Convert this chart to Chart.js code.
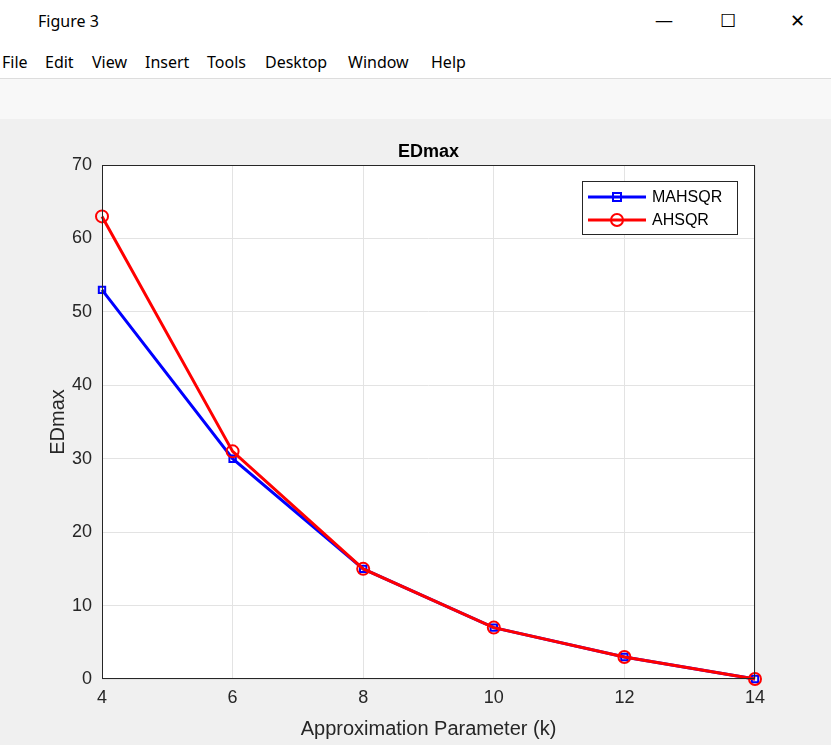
<!DOCTYPE html>
<html><head><meta charset="utf-8">
<script src="https://cdn.jsdelivr.net/npm/chart.js@4"></script>
<style>
body{margin:0;width:831px;height:745px;background:#f0f0f0;font-family:"Segoe UI","Noto Sans",sans-serif;overflow:hidden;position:relative}
#tb{position:absolute;top:0;left:0;width:831px;height:42px;background:#fff;font-size:16px}
#tb span{position:absolute;left:38px;top:10px;color:#000}
#tb .b{position:absolute;top:8px;font-size:18px}
#mb{position:absolute;top:42px;left:0;width:831px;height:36px;background:#fff;font-size:16px}
#mb span{position:absolute;top:9px}
#tl{position:absolute;top:78px;left:0;width:831px;height:40px;background:#f8f8f8;border-top:1px solid #ddd}
#c{position:absolute;top:118px;left:0}
</style></head><body>
<div id="tb"><span>Figure 3</span><div class="b" style="left:655px">&#8212;</div><div class="b" style="left:720px">&#9744;</div><div class="b" style="left:790px">&#10005;</div></div>
<div id="mb"><span style="left:2px">File</span><span style="left:45px">Edit</span><span style="left:92px">View</span><span style="left:145px">Insert</span><span style="left:207px">Tools</span><span style="left:265px">Desktop</span><span style="left:348px">Window</span><span style="left:431px">Help</span></div>
<div id="tl"></div>
<canvas id="c" width="831" height="627"></canvas>
<script>
const kValues=[4,6,8,10,12,14];
const mahsqr=[53,30,15,7,3,0];
const ahsqr=[63,31,15,7,3,0];
const yTicks=[0,10,20,30,40,50,60,70];
const F='"Liberation Sans",Arial,sans-serif';
const deco={id:'deco',
beforeDraw(ch){const a=ch.chartArea,c=ch.ctx;c.save();c.fillStyle='#fff';c.fillRect(a.left,a.top,a.right-a.left,a.bottom-a.top);c.restore();},
afterDraw(ch){const a=ch.chartArea,c=ch.ctx;c.save();
c.strokeStyle='#262626';c.lineWidth=1;c.strokeRect(a.left+0.5,a.top+0.5,a.right-a.left-1,a.bottom-a.top-1);
c.fillStyle='#000';c.font='bold 18px '+F;c.textAlign='center';c.fillText('EDmax',(a.left+a.right)/2,a.top-8);
const x0=582,y0=181-118;c.fillStyle='#fff';c.fillRect(x0,y0,155,53);c.strokeStyle='#262626';c.strokeRect(x0+0.5,y0+0.5,155,53);
c.font='16px '+F;c.textAlign='left';c.textBaseline='middle';c.lineWidth=3;
[['MAHSQR','#0000ff',y0+16,'s'],['AHSQR','#ff0000',y0+39,'c']].forEach(([t,col,y,m])=>{c.strokeStyle=col;c.beginPath();c.moveTo(x0+6,y);c.lineTo(x0+64,y);c.stroke();c.lineWidth=2;
if(m==='s'){c.strokeRect(x0+31,y-4,8,8);}else{c.beginPath();c.arc(x0+35,y,6,0,7);c.stroke();}c.lineWidth=3;c.fillStyle='#000';c.fillText(t,x0+70,y+1);});
c.restore();}};
new Chart(document.getElementById('c'),{type:'line',
data:{datasets:[
{label:'MAHSQR',order:2,clip:false,data:kValues.map((k,i)=>({x:k,y:mahsqr[i]})),borderColor:'#0000ff',borderWidth:3,pointStyle:'rect',pointRadius:4.5,pointBorderWidth:2,pointBackgroundColor:'rgba(0,0,0,0)',pointBorderColor:'#0000ff'},
{label:'AHSQR',order:1,clip:false,data:kValues.map((k,i)=>({x:k,y:ahsqr[i]})),borderColor:'#ff0000',borderWidth:3,pointStyle:'circle',pointRadius:6,pointBorderWidth:2,pointBackgroundColor:'rgba(0,0,0,0)',pointBorderColor:'#ff0000'}]},
options:{responsive:false,animation:false,layout:{padding:{top:47,right:76,left:42,bottom:0}},
plugins:{legend:{display:false},tooltip:{enabled:false}},
scales:{
x:{type:'linear',min:4,max:14,afterBuildTicks(s){s.ticks=kValues.map(v=>({value:v}));},afterFit(s){s.height=66;},
grid:{color:'#e3e3e3',drawTicks:false},border:{display:false},ticks:{color:'#262626',font:{size:18,family:F},padding:8},
title:{display:true,text:'Approximation Parameter (k)',color:'#262626',font:{size:20,family:F},padding:{top:6}}},
y:{min:0,max:70,afterBuildTicks(s){s.ticks=yTicks.map(v=>({value:v}));},afterFit(s){s.width=60;},
grid:{color:'#e3e3e3',drawTicks:false},border:{display:false},ticks:{color:'#262626',font:{size:18,family:F},padding:10},
title:{display:true,text:'EDmax',color:'#262626',font:{size:20,family:F},padding:{bottom:4}}}}},
plugins:[deco]});
</script></body></html>
